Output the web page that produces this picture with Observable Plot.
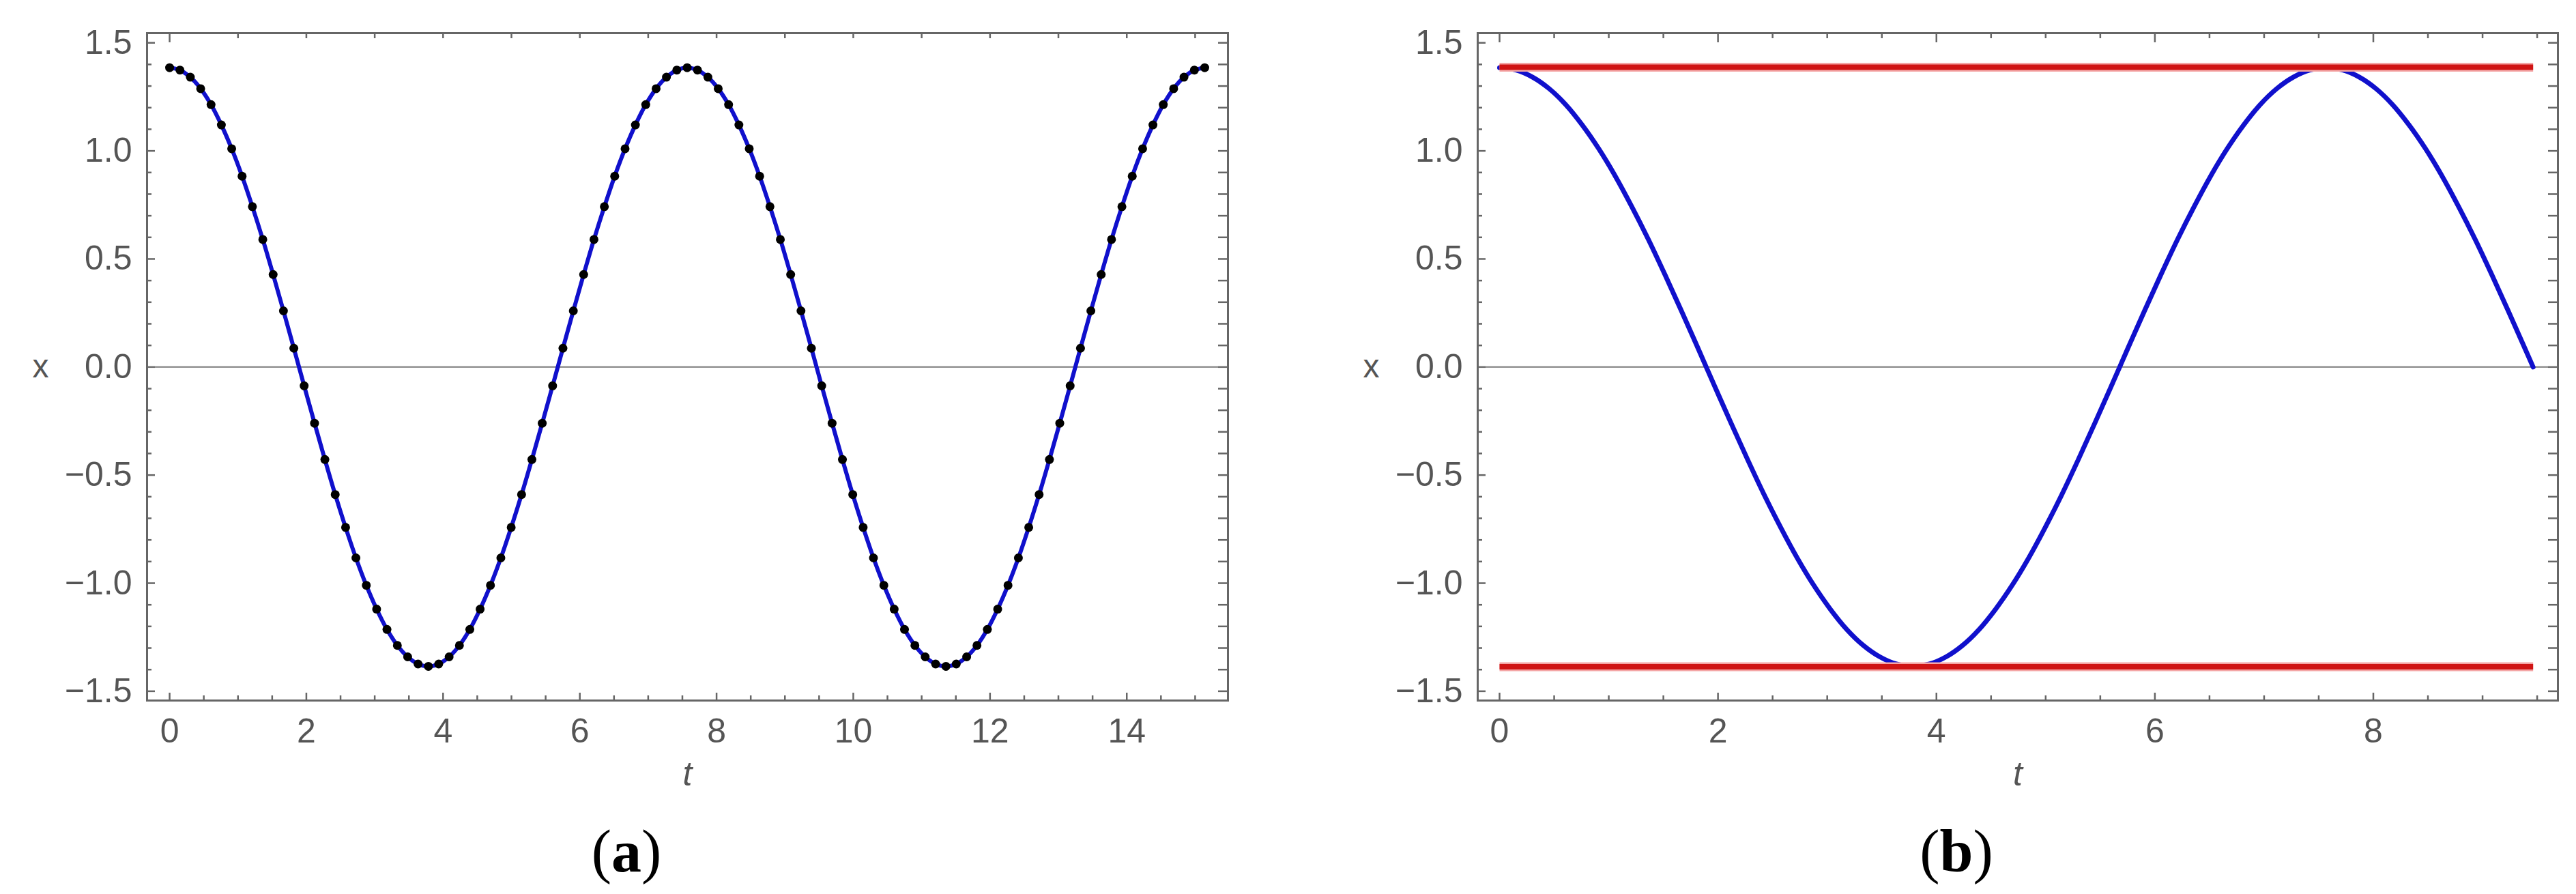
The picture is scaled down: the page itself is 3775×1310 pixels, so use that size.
<!DOCTYPE html>
<html><head><meta charset="utf-8">
<script src="https://cdn.jsdelivr.net/npm/d3@7"></script>
<script src="https://cdn.jsdelivr.net/npm/@observablehq/plot@0.6"></script>
<style>
html,body{margin:0;padding:0;background:#fff;}
#root{position:relative;width:3775px;height:1310px;overflow:hidden;background:#fff;}
.panel{position:absolute;top:0;}
.cap{position:absolute;font-family:"Liberation Serif","Times New Roman",serif;font-size:88px;color:#000;transform:translate(-50%,-50%);line-height:1;white-space:nowrap;}
</style></head><body><div id="root"></div>
<script>
// ---- Panel (a): numerical points and analytic curve ----
const tA = [0.000,0.151,0.303,0.454,0.606,0.757,0.908,1.060,1.211,1.363,1.514,1.665,1.817,1.968,2.120,2.271,2.422,2.574,2.725,2.877,
  3.028,3.179,3.331,3.482,3.634,3.785,3.936,4.088,4.239,4.391,4.542,4.693,4.845,4.996,5.148,5.299,5.450,5.602,5.753,5.905,
  6.056,6.207,6.359,6.510,6.662,6.813,6.964,7.116,7.267,7.419,7.570,7.721,7.873,8.024,8.176,8.327,8.478,8.630,8.781,8.933,
  9.084,9.235,9.387,9.538,9.690,9.841,9.992,10.144,10.295,10.447,10.598,10.749,10.901,11.052,11.204,11.355,11.506,11.658,11.809,11.961,
  12.112,12.263,12.415,12.566,12.718,12.869,13.020,13.172,13.323,13.475,13.626,13.777,13.929,14.080,14.232,14.383,14.534,14.686,14.837,14.989,15.140];
const xA = [1.385,1.374,1.341,1.288,1.214,1.120,1.010,0.883,0.742,0.590,0.428,0.260,0.087,-0.087,-0.260,-0.428,-0.590,-0.742,-0.883,-1.010,
  -1.120,-1.214,-1.288,-1.341,-1.374,-1.385,-1.374,-1.341,-1.288,-1.214,-1.120,-1.010,-0.883,-0.742,-0.590,-0.428,-0.260,-0.087,0.087,0.260,
  0.428,0.590,0.742,0.883,1.010,1.120,1.214,1.288,1.341,1.374,1.385,1.374,1.341,1.288,1.214,1.120,1.010,0.883,0.742,0.590,
  0.428,0.260,0.087,-0.087,-0.260,-0.428,-0.590,-0.742,-0.883,-1.010,-1.120,-1.214,-1.288,-1.341,-1.374,-1.385,-1.374,-1.341,-1.288,-1.214,
  -1.120,-1.010,-0.883,-0.742,-0.590,-0.428,-0.260,-0.087,0.087,0.260,0.428,0.590,0.742,0.883,1.010,1.120,1.214,1.288,1.341,1.374,1.385];

// ---- Panel (b): solution with amplitude envelope ----
const tB = [0.000,0.151,0.303,0.454,0.606,0.757,0.908,1.060,1.211,1.363,1.514,1.665,1.817,1.968,2.120,2.271,2.422,2.574,2.725,2.877,
  3.028,3.179,3.331,3.482,3.634,3.785,3.936,4.088,4.239,4.391,4.542,4.693,4.845,4.996,5.148,5.299,5.450,5.602,5.753,5.905,
  6.056,6.207,6.359,6.510,6.662,6.813,6.964,7.116,7.267,7.419,7.570,7.721,7.873,8.024,8.176,8.327,8.478,8.630,8.781,8.933,
  9.084,9.235,9.387,9.463];
const xB = [1.385,1.374,1.341,1.288,1.214,1.120,1.010,0.883,0.742,0.590,0.428,0.260,0.087,-0.087,-0.260,-0.428,-0.590,-0.742,-0.883,-1.010,
  -1.120,-1.214,-1.288,-1.341,-1.374,-1.385,-1.374,-1.341,-1.288,-1.214,-1.120,-1.010,-0.883,-0.742,-0.590,-0.428,-0.260,-0.087,0.087,0.260,
  0.428,0.590,0.742,0.883,1.010,1.120,1.214,1.288,1.341,1.374,1.385,1.374,1.341,1.288,1.214,1.120,1.010,0.883,0.742,0.590,
  0.428,0.260,0.087,0.000];
const tEnv = [0, 9.463];
const xUpper = [1.387, 1.387];
const xLower = [-1.387, -1.387];

// ---- Ticks ----
const yMajor = [-1.5,-1,-0.5,0,0.5,1,1.5];
const yMinor = [-1.4,-1.3,-1.2,-1.1,-0.9,-0.8,-0.7,-0.6,-0.4,-0.3,-0.2,-0.1,0.1,0.2,0.3,0.4,0.6,0.7,0.8,0.9,1.1,1.2,1.3,1.4];
const xMajorA = [0,2,4,6,8,10,12,14];
const xMinorA = [0.5,1,1.5,2.5,3,3.5,4.5,5,5.5,6.5,7,7.5,8.5,9,9.5,10.5,11,11.5,12.5,13,13.5,14.5,15];
const xTopA = [0,1,2,3,4,5,6,7,8,9,10,11,12,13,14,15];
const xMajorB = [0,2,4,6,8];
const xMinorB = [0.5,1,1.5,2.5,3,3.5,4.5,5,5.5,6.5,7,7.5,8.5,9,9.5];
const xLabel = "t", yLabel = "x";
const captions = ["a", "b"];

const yDomain = [-1.543, 1.545];
const AX = "#666", TXT = "#555";
const BLUE = "#1010cc", RED = "#d01414";
const fmtY = d => (Math.abs(d) < 1e-9 ? "0.0" : d.toFixed(1).replace("-", "\u2212"));
const blank = () => "";

function axes({xMajor, xMinor, xTopMajor, xTopMinor}) {
  const common = {stroke: AX, strokeWidth: 2.5, fill: TXT, fontSize: 50, label: null};
  return [
    Plot.axisY(yMajor, {...common, anchor: "left", tickSize: 12, dx: 12, tickPadding: 22, tickFormat: fmtY}),
    Plot.axisY(yMinor, {...common, anchor: "left", tickSize: 7, dx: 7, tickFormat: blank}),
    Plot.axisY(yMajor.concat(yMinor), {...common, anchor: "right", tickSize: 15, dx: -15, tickFormat: blank}),
    Plot.axisX(xMajor, {...common, anchor: "bottom", tickSize: 11, dy: -11, tickPadding: 26, tickFormat: d => String(d)}),
    Plot.axisX(xMinor, {...common, anchor: "bottom", tickSize: 7, dy: -7, tickFormat: blank}),
    Plot.axisX(xTopMajor, {...common, anchor: "top", tickSize: 13, dy: 13, tickFormat: blank}),
    Plot.axisX(xTopMinor, {...common, anchor: "top", tickSize: 7, dy: 7, tickFormat: blank}),
    Plot.ruleY([0], {stroke: "#7a7a7a", strokeWidth: 2}),
    Plot.frame({stroke: AX, strokeWidth: 3}),
    Plot.text([0], {y: d => d, frameAnchor: "left", dx: -168, text: () => yLabel, fontSize: 48, fill: TXT}),
    Plot.text([0], {frameAnchor: "bottom", dy: 124, text: () => xLabel, fontSize: 50, fontStyle: "italic", fill: TXT})
  ];
}

const dataA = tA.map((t, i) => ({t, x: xA[i]}));
const dataB = tB.map((t, i) => ({t, x: xB[i]}));
const envU = tEnv.map((t, i) => ({t, x: xUpper[i]}));
const envL = tEnv.map((t, i) => ({t, x: xLower[i]}));

const style = {fontFamily: "'Liberation Sans', Arial, sans-serif", fontSize: "50px", background: "transparent", overflow: "visible"};

const plotA = Plot.plot({
  width: 1887, height: 1186,
  marginLeft: 215, marginRight: 88, marginTop: 48, marginBottom: 160,
  x: {domain: [-0.33, 15.48]},
  y: {domain: yDomain},
  style,
  marks: [
    ...axes({xMajor: xMajorA, xMinor: xMinorA, xTopMajor: [0], xTopMinor: xTopA.slice(1)}),
    Plot.line(dataA, {x: "t", y: "x", stroke: BLUE, strokeWidth: 6, curve: "catmull-rom"}),
    Plot.dot(dataA, {x: "t", y: "x", r: 6.5, fill: "#000", stroke: "none"})
  ]
});

const plotB = Plot.plot({
  width: 1888, height: 1186,
  marginLeft: 278, marginRight: 27, marginTop: 48, marginBottom: 160,
  x: {domain: [-0.2, 9.69]},
  y: {domain: yDomain},
  style,
  marks: [
    ...axes({xMajor: xMajorB, xMinor: xMinorB, xTopMajor: xMajorB, xTopMinor: xMinorB}),
    Plot.line(dataB, {x: "t", y: "x", stroke: BLUE, strokeWidth: 7, curve: "catmull-rom"}),
    Plot.line(envU, {x: "t", y: "x", stroke: "#f4a6a6", strokeWidth: 13, strokeLinecap: "butt"}),
    Plot.line(envL, {x: "t", y: "x", stroke: "#f4a6a6", strokeWidth: 13, strokeLinecap: "butt"}),
    Plot.line(envU, {x: "t", y: "x", stroke: RED, strokeWidth: 8, strokeLinecap: "butt"}),
    Plot.line(envL, {x: "t", y: "x", stroke: RED, strokeWidth: 8, strokeLinecap: "butt"})
  ]
});

const root = document.getElementById("root");
plotA.classList.add("panel"); plotA.style.left = "0px";
plotB.classList.add("panel"); plotB.style.left = "1887px";
root.appendChild(plotA);
root.appendChild(plotB);

const capPos = [[918, 1248], [2867, 1248]];
captions.forEach((c, i) => {
  const d = document.createElement("div");
  d.className = "cap";
  d.style.left = capPos[i][0] + "px";
  d.style.top = capPos[i][1] + "px";
  d.innerHTML = "(<b>" + c + "</b>)";
  root.appendChild(d);
});
</script>
</body></html>
